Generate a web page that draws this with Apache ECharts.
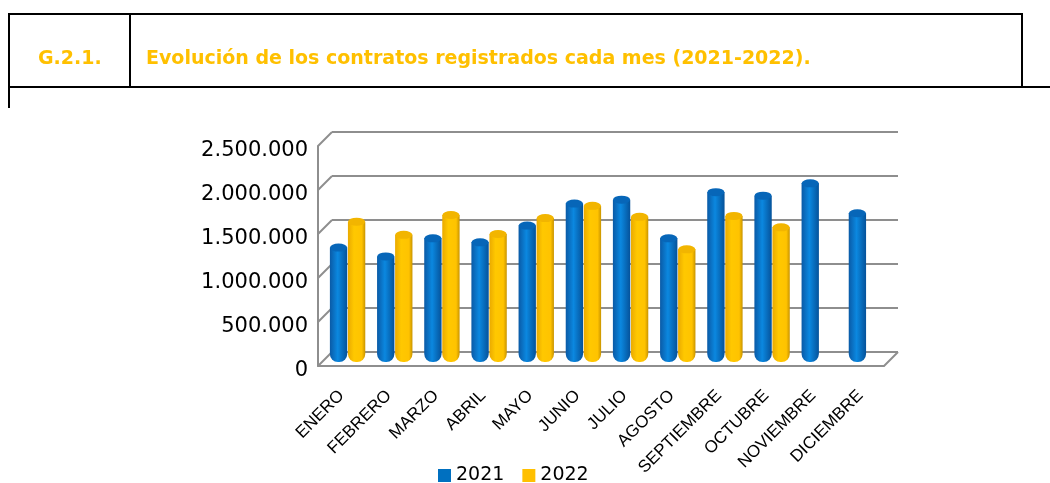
<!DOCTYPE html>
<html>
<head>
<meta charset="utf-8">
<script src="https://cdn.jsdelivr.net/npm/echarts@6/dist/echarts.min.js"></script>
<style>
  html, body { margin: 0; padding: 0; background: #fff; }
  #chart { width: 1050px; height: 483px; }
</style>
</head>
<body>
<div id="chart"></div>
<script>
const months = ['ENERO', 'FEBRERO', 'MARZO', 'ABRIL', 'MAYO', 'JUNIO', 'JULIO', 'AGOSTO', 'SEPTIEMBRE', 'OCTUBRE', 'NOVIEMBRE', 'DICIEMBRE']
const values2021 = [1300000, 1200000, 1405000, 1360000, 1550000, 1800000, 1845000, 1405000, 1930000, 1890000, 2030000, 1690000]
const values2022 = [1595000, 1445000, 1670000, 1455000, 1635000, 1775000, 1650000, 1280000, 1660000, 1530000, null, null]
const yMax = 2500000
const yStep = 500000

// front plane of the 3D box, depth offset to the back wall
const front = { left: 318, top: 146, width: 566, height: 220 }
const depth = 14
const barShift = { x: 6, y: -4 }

const fmt = v => String(v).replace(/\B(?=(\d{3})+(?!\d))/g, '.')

const blueGrad = new echarts.graphic.LinearGradient(0, 0, 1, 0, [
  { offset: 0, color: '#0a5aa6' },
  { offset: 0.45, color: '#0b88e0' },
  { offset: 1, color: '#05529a' }
])
const yellowGrad = new echarts.graphic.LinearGradient(0, 0, 1, 0, [
  { offset: 0, color: '#eaaa00' },
  { offset: 0.35, color: '#ffc800' },
  { offset: 0.8, color: '#ffc300' },
  { offset: 1, color: '#c99400' }
])

const gap = { barCategoryGap: '25%', barGap: '4%' }

const wallGrid = {
  left: front.left + depth, top: front.top - depth,
  width: front.width, height: front.height
}
const barGrid = {
  left: front.left + barShift.x, top: front.top + barShift.y,
  width: front.width, height: front.height
}

// decorative 3D edges
const edgeStyle = { stroke: '#8e8e8e', lineWidth: 2 }
const edges = []
for (let v = 0; v <= yMax; v += yStep) {
  const y = front.top + front.height - v / yMax * front.height
  edges.push({ type: 'line', shape: { x1: front.left, y1: y, x2: front.left + depth, y2: y - depth }, style: edgeStyle, z: 1 })
}
edges.push({
  type: 'line',
  shape: { x1: front.left + front.width, y1: front.top + front.height, x2: front.left + front.width + depth, y2: front.top + front.height - depth },
  style: edgeStyle, z: 1
})

const header = [
  { type: 'line', shape: { x1: 9, y1: 14, x2: 1023, y2: 14 }, style: { stroke: '#000', lineWidth: 2 } },
  { type: 'line', shape: { x1: 9, y1: 87, x2: 1050, y2: 87 }, style: { stroke: '#000', lineWidth: 2 } },
  { type: 'line', shape: { x1: 9, y1: 13, x2: 9, y2: 108 }, style: { stroke: '#000', lineWidth: 2 } },
  { type: 'line', shape: { x1: 130, y1: 13, x2: 130, y2: 87 }, style: { stroke: '#000', lineWidth: 2 } },
  { type: 'line', shape: { x1: 1022, y1: 13, x2: 1022, y2: 87 }, style: { stroke: '#000', lineWidth: 2 } }
]

const headStyle = { color: '#FFC000', fontFamily: 'DejaVu Sans', fontWeight: 'bold', fontSize: 19 }

const chart = echarts.init(document.getElementById('chart'))

chart.setOption({
  animation: false,
  backgroundColor: '#fff',
  title: [
    { text: 'G.2.1.', left: 38, top: 50, padding: 0, textStyle: headStyle },
    { text: 'Evolución de los contratos registrados cada mes (2021-2022).', left: 146, top: 50, padding: 0, textStyle: headStyle }
  ],
  legend: {
    data: [
      { name: '2021', itemStyle: { color: '#0070C0' } },
      { name: '2022', itemStyle: { color: '#FFC000' } }
    ],
    left: 438, top: 466, padding: 0,
    icon: 'rect', itemWidth: 13, itemHeight: 13, itemGap: 18,
    textStyle: { fontFamily: 'DejaVu Sans', fontSize: 19, color: '#000' }
  },
  grid: [wallGrid, front, barGrid],
  xAxis: [
    { gridIndex: 0, type: 'category', data: months, show: false },
    {
      gridIndex: 1, type: 'category', data: months,
      axisLine: { lineStyle: { color: '#8e8e8e', width: 2 } },
      axisTick: { alignWithLabel: true, length: 6, lineStyle: { color: '#8e8e8e', width: 2 } },
      axisLabel: { rotate: 45, interval: 0, margin: 27, color: '#000', fontFamily: 'Liberation Sans', fontSize: 17 }
    },
    { gridIndex: 2, type: 'category', data: months, show: false }
  ],
  yAxis: [
    {
      gridIndex: 0, type: 'value', min: 0, max: yMax, interval: yStep,
      axisLabel: { show: false }, axisLine: { show: false }, axisTick: { show: false },
      splitLine: { lineStyle: { color: '#8e8e8e', width: 2 } }
    },
    {
      gridIndex: 1, type: 'value', min: 0, max: yMax, interval: yStep,
      axisLine: { show: true, lineStyle: { color: '#8e8e8e', width: 2 } },
      axisTick: { show: false }, splitLine: { show: false },
      axisLabel: {
        formatter: fmt, color: '#000', fontFamily: 'DejaVu Sans', fontSize: 21, margin: 10,
        verticalAlign: 'top', lineHeight: 10
      }
    },
    { gridIndex: 2, type: 'value', min: 0, max: yMax, show: false, splitLine: { show: false } }
  ],
  graphic: header.concat(edges),
  series: [
    { name: '2021', type: 'bar', xAxisIndex: 2, yAxisIndex: 2, data: values2021, ...gap, itemStyle: { color: blueGrad, borderRadius: [0, 0, 8, 8] }, z: 3 },
    { name: '2022', type: 'bar', xAxisIndex: 2, yAxisIndex: 2, data: values2022, ...gap, itemStyle: { color: yellowGrad, borderRadius: [0, 0, 8, 8] }, z: 3 },
    {
      name: '2021 top', type: 'pictorialBar', xAxisIndex: 2, yAxisIndex: 2, data: values2021, ...gap,
      symbol: 'circle', symbolSize: [17, 8], symbolPosition: 'end', symbolOffset: [0, '-50%'],
      itemStyle: { color: '#0766b8' }, z: 4
    },
    {
      name: '2022 top', type: 'pictorialBar', xAxisIndex: 2, yAxisIndex: 2, data: values2022, ...gap,
      symbol: 'circle', symbolSize: [17, 8], symbolPosition: 'end', symbolOffset: [0, '-50%'],
      itemStyle: { color: '#f2b500' }, z: 4
    }
  ]
})

window.addEventListener('resize', () => chart.resize())
</script>
</body>
</html>
